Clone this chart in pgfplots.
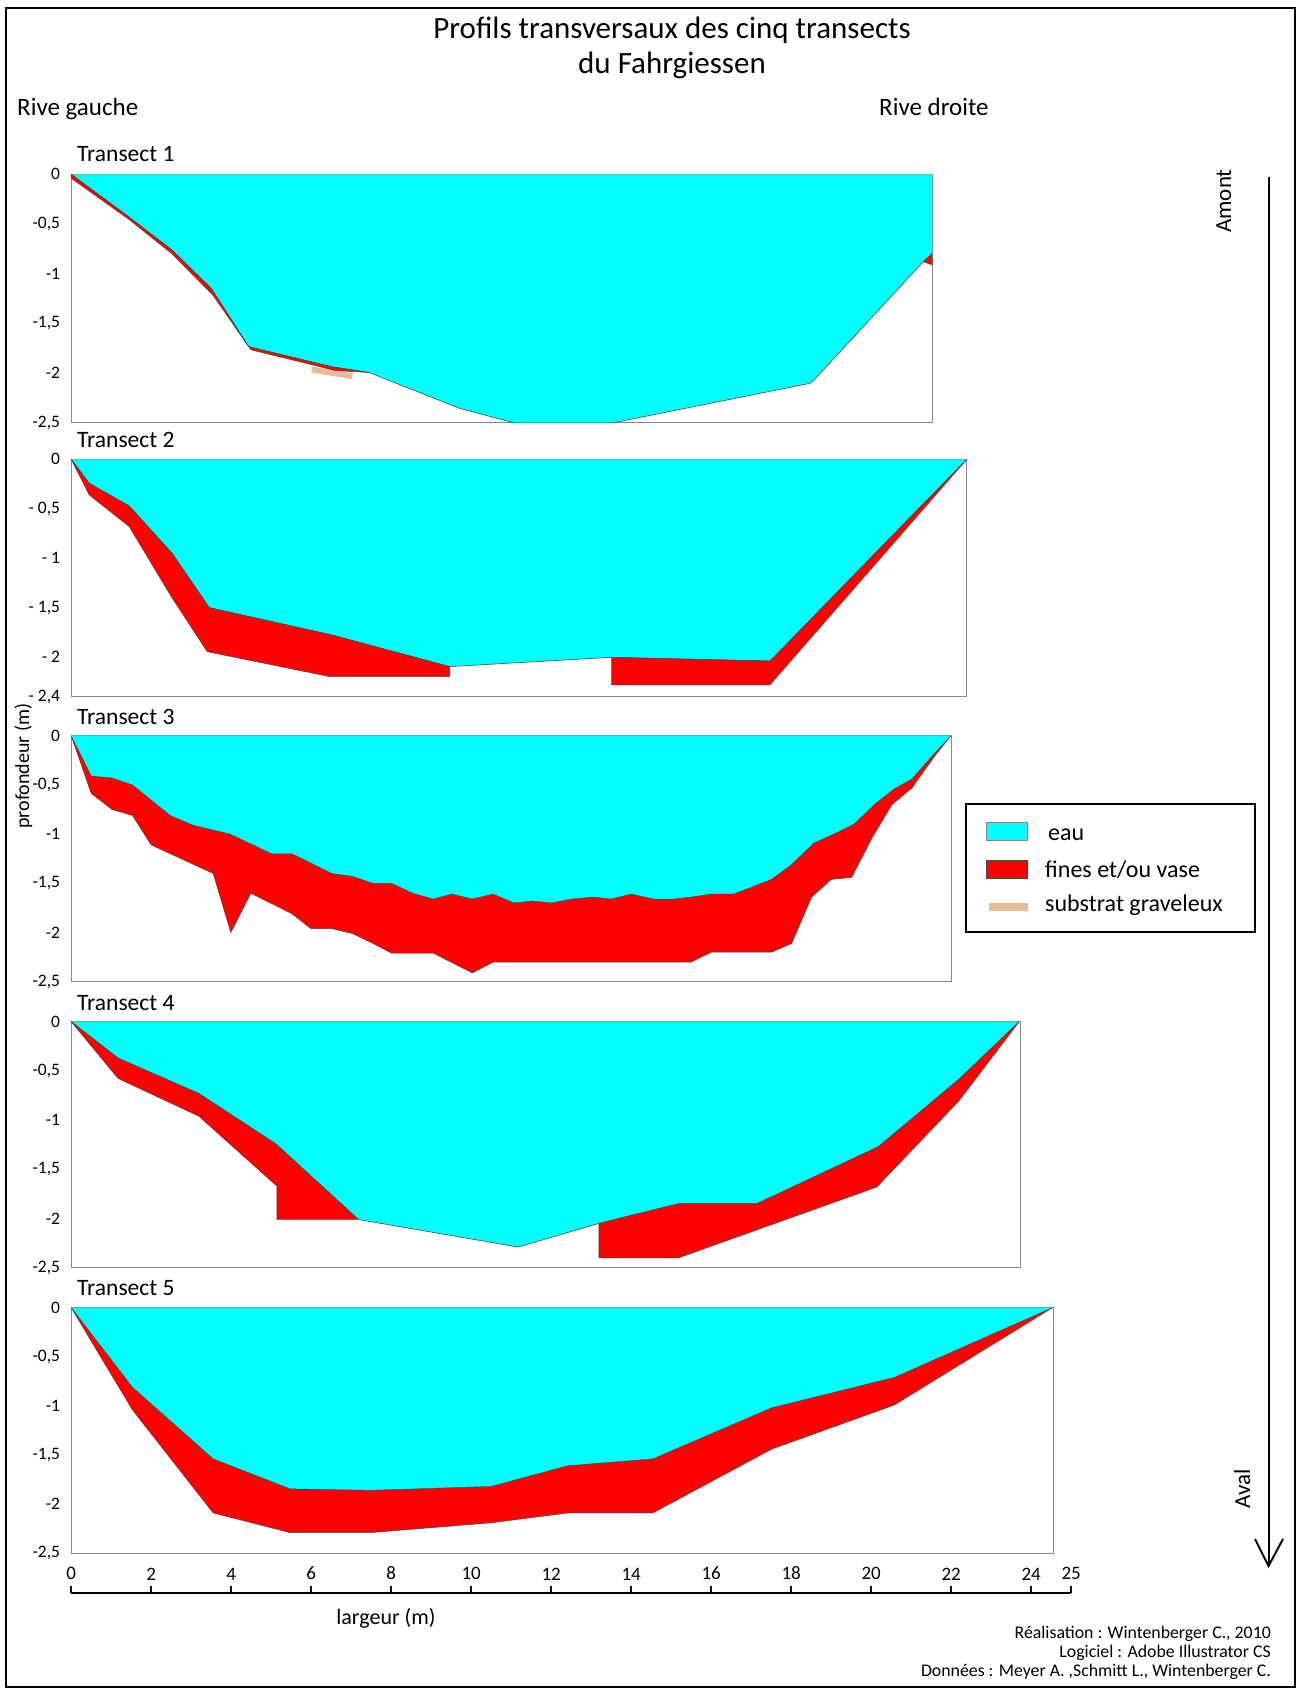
\documentclass[border=0pt]{standalone}
\usepackage{fontspec}
\setmainfont{Carlito}
\usepackage{pgfplots}
\pgfplotsset{compat=1.18}
\definecolor{eau}{RGB}{0,255,255}
\definecolor{fines}{RGB}{255,0,0}
\definecolor{grav}{RGB}{230,188,152}
\definecolor{boxgray}{RGB}{135,135,135}
\definecolor{edge}{RGB}{70,70,70}
\newcommand{\fs}[1]{\fontsize{#1}{#1}\selectfont}
\pgfplotsset{
  transect/.style={
    anchor=north west, x=40pt, xmin=0, ymax=0,
    axis line style={draw=boxgray, line width=0.9pt},
    xtick=\empty,
    ytick={-2.5,-2,-1.5,-1,-0.5,0},
    yticklabels={{-2,5},{-2},{-1,5},{-1},{-0,5},{0}},
    major tick length=0pt, ytick style={draw=none},
    yticklabel style={font=\fs{17.5}, inner sep=0pt, anchor=east, xshift=-11pt},
    clip=false,
  },
  water/.style={fill=eau, draw=none},
  bed/.style={draw=edge, line width=0.6pt},
  vase/.style={fill=fines, draw=edge, line width=0.5pt},
}
\begin{document}
\begin{tikzpicture}
\path[use as bounding box] (0pt,0pt) rectangle (1299pt,-1692pt);
\draw[line width=2.5pt] (6pt,-8pt) rectangle (1295pt,-1687pt);

% titles
\node[anchor=base, font=\fs{31}] at (672pt,-38pt) {Profils transversaux des cinq transects};
\node[anchor=base, font=\fs{31}] at (672pt,-73pt) {du Fahrgiessen};
\node[anchor=base west, font=\fs{25}, inner sep=0pt] at (17pt,-115pt) {Rive gauche};
\node[anchor=base west, font=\fs{25}, inner sep=0pt] at (879pt,-115pt) {Rive droite};
\node[anchor=base, rotate=90, font=\fs{20}, inner sep=0pt] at (29pt,-766pt) {profondeur (m)};
\node[anchor=base west, font=\fs{23.5}, inner sep=0pt] at (77pt,-161.7pt) {Transect 1};
\node[anchor=base west, font=\fs{23.5}, inner sep=0pt] at (77pt,-447.5pt) {Transect 2};
\node[anchor=base west, font=\fs{23.5}, inner sep=0pt] at (77pt,-724pt) {Transect 3};
\node[anchor=base west, font=\fs{23.5}, inner sep=0pt] at (77pt,-1010pt) {Transect 4};
\node[anchor=base west, font=\fs{23.5}, inner sep=0pt] at (77pt,-1295.5pt) {Transect 5};

% Transect 1
\begin{axis}[transect, at={(71.2pt,-174.3pt)}, y=99.4pt, ymin=-2.5, xmax=21.52]
\addplot[water] coordinates {(0,0) (1.43,-0.426) (2.52,-0.762) (3.50,-1.148) (4.44,-1.735) (6.51,-1.936) (7.44,-1.993) (9.72,-2.356) (11.07,-2.5) (13.55,-2.5) (18.5,-2.1) (21.3,-0.88) (21.52,-0.80) (21.52,0)} -- cycle;
\addplot[bed] coordinates {(0,0) (1.43,-0.426) (2.52,-0.762) (3.50,-1.148) (4.44,-1.735) (6.51,-1.936) (7.44,-1.993) (9.72,-2.356) (11.07,-2.5) (13.55,-2.5) (18.5,-2.1) (21.3,-0.88) (21.52,-0.80)};
\addplot[draw=grav, line width=6pt] coordinates {(6.01,-1.963) (6.61,-2.003) (7.03,-2.03)};
\addplot[vase] coordinates {(0,0) (1.43,-0.426) (2.52,-0.762) (3.50,-1.148) (4.44,-1.735) (6.51,-1.936) (7.44,-1.993) (6.61,-1.975) (4.49,-1.765) (3.55,-1.22) (2.52,-0.80) (1.43,-0.45) (0,-0.04)} -- cycle;
\addplot[vase] coordinates {(21.3,-0.88) (21.52,-0.80) (21.52,-0.91)} -- cycle;
\end{axis}

% Transect 2
\begin{axis}[transect, at={(71.2pt,-459.3pt)}, y=98.9pt, ymin=-2.4, xmax=22.39,
  ytick={-2.4,-2,-1.5,-1,-0.5,0}, yticklabels={{- 2,4},{- 2},{- 1,5},{- 1},{- 0,5},{0}}]
\addplot[water] coordinates {(0,0) (0.45,-0.243) (1.45,-0.472) (2.52,-0.95) (3.45,-1.50) (6.51,-1.776) (9.46,-2.096) (13.50,-2.002) (17.47,-2.04) (22.39,0)} -- cycle;
\addplot[bed] coordinates {(0,0) (0.45,-0.243) (1.45,-0.472) (2.52,-0.95) (3.45,-1.50) (6.51,-1.776) (9.46,-2.096) (13.50,-2.002) (17.47,-2.04) (22.39,0)};
\addplot[vase] coordinates {(0,0) (0.45,-0.243) (1.45,-0.472) (2.52,-0.95) (3.45,-1.50) (6.51,-1.776) (9.46,-2.096) (9.46,-2.197) (6.46,-2.197) (3.40,-1.945) (2.52,-1.40) (1.45,-0.68) (0.45,-0.36)} -- cycle;
\addplot[vase] coordinates {(13.51,-2.003) (17.47,-2.04) (22.39,0) (17.47,-2.28) (13.51,-2.28)} -- cycle;
\end{axis}

% Transect 3
\begin{axis}[transect, at={(71.2pt,-735.7pt)}, y=98.4pt, ymin=-2.5, xmax=22.0]
\addplot[water] coordinates {(0,0) (0.50,-0.41) (1.02,-0.43) (1.53,-0.50) (2.47,-0.81) (3.04,-0.91) (3.97,-1.00) (5.01,-1.20) (5.52,-1.20) (6.51,-1.40) (7.03,-1.43) (7.54,-1.50) (8.01,-1.50) (8.53,-1.60) (9.05,-1.66) (9.51,-1.61) (10.03,-1.66) (10.55,-1.61) (11.07,-1.70) (11.53,-1.68) (12.00,-1.70) (12.52,-1.66) (13.04,-1.64) (13.50,-1.66) (14.00,-1.61) (14.56,-1.66) (15.06,-1.66) (15.5,-1.64) (16.0,-1.61) (16.56,-1.61) (17.51,-1.46) (18.01,-1.31) (18.57,-1.09) (19.07,-1.00) (19.57,-0.90) (20.08,-0.70) (20.58,-0.54) (21.02,-0.44) (21.58,-0.18) (22.00,0)} -- cycle;
\addplot[vase] coordinates {(0,0) (0.50,-0.41) (1.02,-0.43) (1.53,-0.50) (2.47,-0.81) (3.04,-0.91) (3.97,-1.00) (5.01,-1.20) (5.52,-1.20) (6.51,-1.40) (7.03,-1.43) (7.54,-1.50) (8.01,-1.50) (8.53,-1.60) (9.05,-1.66) (9.51,-1.61) (10.03,-1.66) (10.55,-1.61) (11.07,-1.70) (11.53,-1.68) (12.00,-1.70) (12.52,-1.66) (13.04,-1.64) (13.50,-1.66) (14.00,-1.61) (14.56,-1.66) (15.06,-1.66) (15.5,-1.64) (16.0,-1.61) (16.56,-1.61) (17.51,-1.46) (18.01,-1.31) (18.57,-1.09) (19.07,-1.00) (19.57,-0.90) (20.08,-0.70) (20.58,-0.54) (21.02,-0.44) (21.58,-0.18) (22.00,0)
 (21.58,-0.21) (21.02,-0.53) (20.52,-0.70) (20.03,-1.03) (19.51,-1.44) (19.0,-1.46) (18.51,-1.64) (18.01,-2.11) (17.51,-2.20) (16.0,-2.20) (15.5,-2.30) (10.55,-2.30) (10.03,-2.41) (9.05,-2.21) (8.01,-2.21) (7.54,-2.11) (7.03,-2.01) (6.51,-1.96) (5.99,-1.96) (5.52,-1.81) (4.49,-1.60) (3.99,-2.00) (3.55,-1.40) (2.0,-1.11) (1.53,-0.81) (1.02,-0.75) (0.50,-0.586)} -- cycle;
\end{axis}

% Transect 4
\begin{axis}[transect, at={(71.2pt,-1021.7pt)}, y=98.4pt, ymin=-2.5, xmax=23.74]
\addplot[water] coordinates {(0,0) (1.17,-0.37) (3.19,-0.73) (5.11,-1.24) (7.18,-2.01) (11.17,-2.29) (13.19,-2.05) (15.18,-1.85) (17.14,-1.85) (20.18,-1.27) (22.18,-0.59) (23.70,0)} -- cycle;
\addplot[bed] coordinates {(0,0) (1.17,-0.37) (3.19,-0.73) (5.11,-1.24) (7.18,-2.01) (11.17,-2.29) (13.19,-2.05) (15.18,-1.85) (17.14,-1.85) (20.18,-1.27) (22.18,-0.59) (23.70,0)};
\addplot[vase] coordinates {(0,0) (1.17,-0.37) (3.19,-0.73) (5.11,-1.24) (7.18,-2.01) (5.14,-2.01) (5.14,-1.67) (3.19,-0.96) (1.17,-0.576)} -- cycle;
\addplot[vase] coordinates {(13.19,-2.05) (15.18,-1.85) (17.14,-1.85) (20.18,-1.27) (22.18,-0.59) (23.70,0) (22.18,-0.81) (20.14,-1.68) (15.18,-2.40) (13.19,-2.40)} -- cycle;
\end{axis}

% Transect 5
\begin{axis}[transect, at={(71.2pt,-1307.7pt)}, y=98.2pt, ymin=-2.5, xmax=24.55]
\addplot[water] coordinates {(0,0) (1.53,-0.81) (3.55,-1.54) (5.47,-1.845) (7.49,-1.86) (10.50,-1.82) (12.41,-1.61) (14.54,-1.54) (17.51,-1.02) (20.58,-0.71) (24.53,0)} -- cycle;
\addplot[vase] coordinates {(0,0) (1.53,-0.81) (3.55,-1.54) (5.47,-1.845) (7.49,-1.86) (10.50,-1.82) (12.41,-1.61) (14.54,-1.54) (17.51,-1.02) (20.58,-0.71) (24.53,0) (20.58,-0.99) (17.51,-1.44) (14.54,-2.09) (12.41,-2.09) (10.50,-2.19) (7.49,-2.29) (5.47,-2.29) (3.55,-2.09) (1.53,-1.04)} -- cycle;
\end{axis}

% ruler
\begin{axis}[at={(71.2pt,-1593.3pt)}, anchor=north west, x=40pt, y=10pt,
  xmin=0, xmax=25, ymin=0, ymax=1,
  axis x line=top, axis y line=none,
  x axis line style={-, line width=1.8pt, black},
  xtick={0,2,4,6,8,10,12,14,16,18,20,22,24,25},
  xticklabels={0,2,4,6,8,10,12,14,16,18,20,22,24,25},
  xtick align=outside, major tick length=7pt,
  xtick style={line width=1.5pt, black},
  xticklabel style={font=\fs{19}, inner sep=0pt, anchor=south, yshift=6pt}]
\end{axis}
\node[anchor=base, font=\fs{22}, inner sep=0pt] at (386pt,-1624pt) {largeur (m)};

% legend
\draw[line width=2pt] (965.5pt,-804.3pt) rectangle (1255.4pt,-931.7pt);
\filldraw[fill=eau, draw=boxgray, line width=0.5pt] (986pt,-822.3pt) rectangle (1027pt,-840.7pt);
\filldraw[fill=fines, draw=edge, line width=0.5pt] (986pt,-860pt) rectangle (1027pt,-878.3pt);
\fill[grav] (989pt,-902.7pt) rectangle (1028pt,-910.7pt);
\node[anchor=base west, font=\fs{24}, inner sep=0pt] at (1048pt,-840.7pt) {eau};
\node[anchor=base west, font=\fs{24}, inner sep=0pt] at (1045pt,-877.7pt) {fines et/ou vase};
\node[anchor=base west, font=\fs{24}, inner sep=0pt] at (1045pt,-911pt) {substrat graveleux};

% amont / aval arrow
\draw[line width=2pt] (1268.5pt,-177pt) -- (1268.5pt,-1566pt);
\draw[line width=2pt, line join=miter] (1255pt,-1539pt) -- (1268.5pt,-1566pt) -- (1283pt,-1539pt);
\node[anchor=base, rotate=90, font=\fs{23}, inner sep=0pt] at (1231pt,-201pt) {Amont};
\node[anchor=base, rotate=90, font=\fs{23}, inner sep=0pt] at (1250pt,-1489pt) {Aval};

% credits
\node[anchor=base east, font=\fs{17.8}, inner sep=0pt] at (1271pt,-1638.3pt) {Réalisation : Wintenberger C., 2010};
\node[anchor=base east, font=\fs{17.8}, inner sep=0pt] at (1271pt,-1657.3pt) {Logiciel : Adobe Illustrator CS};
\node[anchor=base east, font=\fs{17.8}, inner sep=0pt] at (1271pt,-1676.7pt) {Données : Meyer A. ,Schmitt L., Wintenberger C.};
\end{tikzpicture}
\end{document}
